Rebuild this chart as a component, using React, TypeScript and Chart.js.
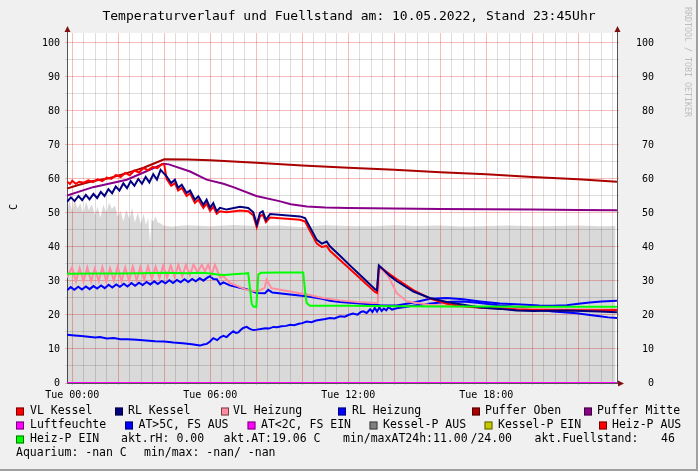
import React, { useEffect, useRef } from "react";
import { Chart, registerables } from "chart.js";
Chart.register(...registerables);

const FONT = '"DejaVu Sans Mono", monospace';

// ---- time range (hours since Tue 00:00) ----
const X_MIN = -0.23;
const X_MAX = 23.683;
const Y_MAX = 102.94;
const xTickValues = Array.from({ length: 48 }, (_, i) => i * 0.5);
const yTickValues = Array.from({ length: 21 }, (_, i) => i * 5);
const titleText = "Temperaturverlauf und Fuellstand am: 10.05.2022, Stand 23:45Uhr";

// ---- Fuellstand (grey area) ----
const fuellT = [-0.23, -0.12, 0.0, 0.1, 0.22, 0.35, 0.48, 0.6, 0.72, 0.85, 0.98, 1.1, 1.22, 1.35, 1.48, 1.6, 1.72, 1.85, 1.98, 2.1, 2.22, 2.35, 2.48, 2.6, 2.72, 2.85, 2.98, 3.1, 3.2, 3.3, 3.38, 3.44, 3.52, 3.62, 3.72, 3.84, 3.95, 4.3, 5.0, 6.0, 7.0, 8.0, 9.0, 10.0, 11.0, 12.0, 13.0, 14.0, 15.0, 16.0, 17.0, 18.0, 19.0, 20.0, 21.0, 22.0, 23.0, 23.62];
const fuellV = [51.0, 53.6, 50.4, 54.2, 51.3, 52.8, 49.8, 53.4, 50.8, 52.6, 49.4, 51.9, 48.6, 52.4, 50.1, 53.0, 51.2, 52.2, 49.0, 50.6, 47.6, 50.9, 48.2, 51.5, 47.2, 50.2, 46.8, 49.8, 46.5, 48.6, 41.0, 48.2, 47.4, 49.0, 47.2, 46.9, 46.3, 46.0, 46.4, 46.1, 46.5, 46.2, 46.3, 45.9, 46.4, 46.2, 46.1, 46.4, 46.2, 46.3, 46.0, 46.2, 46.3, 46.1, 46.2, 46.3, 46.1, 46.2];

// ---- Puffer Oben ----
const pufferObenT = [-0.23, 0.3, 0.9, 1.6, 2.4, 3.1, 3.5, 4.0, 5.0, 6.0, 8.0, 10.0, 12.0, 14.0, 16.0, 18.0, 20.0, 22.0, 23.68];
const pufferObenV = [57.2, 58.3, 59.4, 60.2, 61.8, 63.3, 64.4, 65.8, 65.7, 65.5, 64.8, 64.0, 63.3, 62.7, 62.0, 61.4, 60.6, 59.9, 59.2];

// ---- Puffer Mitte ----
const pufferMitteT = [-0.23, 0.9, 2.37, 3.2, 3.96, 4.2, 5.12, 5.84, 6.57, 7.0, 8.0, 9.0, 9.5, 10.2, 11.0, 12.0, 14.0, 16.0, 18.0, 20.0, 22.0, 23.68];
const pufferMitteV = [55.1, 57.6, 59.8, 62.2, 64.5, 64.3, 62.2, 59.8, 58.6, 57.6, 55.0, 53.5, 52.6, 51.9, 51.6, 51.5, 51.3, 51.2, 51.1, 51.0, 50.9, 50.8];

// ---- RL Kessel ----
const rlKesselT = [-0.23, -0.06, 0.10, 0.27, 0.43, 0.59, 0.75, 0.92, 1.08, 1.24, 1.40, 1.57, 1.73, 1.89, 2.05, 2.22, 2.38, 2.54, 2.70, 2.87, 3.03, 3.19, 3.35, 3.52, 3.68, 3.84, 4.0, 4.1, 4.3, 4.46, 4.6, 4.76, 4.97, 5.12, 5.33, 5.48, 5.7, 5.84, 5.99, 6.13, 6.28, 6.42, 6.71, 7.29, 7.65, 7.87, 8.02, 8.16, 8.28, 8.42, 8.6, 9.9, 10.12, 10.63, 10.85, 11.06, 11.2, 11.64, 12.07, 12.65, 13.16, 13.25, 13.33, 13.81, 14.1, 14.83, 15.55, 16.28, 17.0, 17.73, 18.6, 19.32, 20.03, 21.5, 22.94, 23.68];
const rlKesselV = [53.3, 54.6, 53.5, 55.0, 53.8, 55.3, 54.0, 55.6, 54.4, 56.2, 55.0, 57.0, 55.8, 57.8, 56.6, 58.7, 57.3, 59.4, 58.0, 60.0, 58.6, 60.6, 59.0, 61.4, 59.8, 62.7, 61.5, 60.8, 58.8, 59.8, 57.4, 58.3, 55.9, 56.6, 53.9, 54.9, 52.4, 53.9, 51.5, 52.9, 50.5, 51.5, 51.0, 51.8, 51.5, 50.2, 46.6, 50.0, 50.5, 48.0, 49.7, 49.0, 48.5, 42.1, 41.0, 41.6, 40.2, 37.4, 34.6, 30.9, 27.6, 27.3, 34.6, 31.5, 30.0, 26.9, 25.0, 23.8, 23.0, 22.2, 21.8, 21.3, 21.2, 21.3, 21.0, 20.8];

// ---- VL Kessel ----
const vlKesselT = [-0.23, -0.1, 0.0, 0.15, 0.3, 0.5, 0.7, 0.9, 1.1, 1.3, 1.5, 1.7, 1.9, 2.1, 2.3, 2.5, 2.7, 2.9, 3.1, 3.3, 3.5, 3.7, 3.9, 4.0, 4.1, 4.3, 4.46, 4.6, 4.76, 4.97, 5.12, 5.33, 5.48, 5.7, 5.84, 5.99, 6.13, 6.28, 6.42, 6.71, 7.29, 7.65, 7.87, 8.02, 8.16, 8.28, 8.42, 8.6, 9.9, 10.12, 10.63, 10.85, 11.06, 11.2, 11.64, 12.07, 12.65, 13.16, 13.25, 13.33, 13.81, 14.1, 14.83, 15.55, 16.28, 17.0, 17.73, 18.6, 19.32, 20.03, 21.5, 22.94, 23.68];
const vlKesselV = [59.3, 58.5, 59.5, 58.6, 59.2, 58.9, 59.6, 59.1, 59.9, 59.4, 60.4, 60.0, 61.2, 60.6, 61.8, 61.1, 62.5, 61.9, 63.2, 62.6, 63.6, 63.2, 64.4, 64.2, 60.0, 58.0, 58.8, 56.6, 57.4, 55.0, 55.8, 53.0, 53.9, 51.5, 52.8, 50.6, 51.8, 49.8, 50.5, 50.2, 50.7, 50.5, 49.3, 45.8, 49.0, 49.5, 47.3, 48.7, 48.0, 47.5, 41.0, 40.0, 40.3, 38.9, 36.2, 33.5, 29.9, 26.8, 26.5, 34.4, 32.0, 30.6, 27.3, 24.8, 23.3, 22.6, 22.1, 21.9, 21.6, 21.5, 21.4, 21.4, 21.5];

// ---- VL Heizung ----
const vlHeizT = [-0.23, -0.01, 0.16, 0.32, 0.49, 0.65, 0.82, 0.98, 1.15, 1.31, 1.48, 1.64, 1.81, 1.97, 2.14, 2.30, 2.47, 2.63, 2.80, 2.96, 3.13, 3.29, 3.46, 3.62, 3.79, 3.95, 4.12, 4.28, 4.45, 4.61, 4.78, 4.94, 5.11, 5.27, 5.45, 5.63, 5.77, 5.91, 6.06, 6.2, 6.43, 6.57, 6.86, 7.29, 7.58, 8.02, 8.36, 8.45, 8.66, 9.47, 10.19, 10.91, 11.64, 12.4, 13.16, 13.28, 13.36, 13.74, 14.1, 14.54, 15.5, 16.5, 18.0, 19.5, 21.0, 22.5, 23.68];
const vlHeizV = [31.0, 34.0, 29.9, 33.8, 29.8, 34.0, 29.9, 33.7, 30.0, 34.1, 29.8, 33.8, 30.1, 34.2, 29.9, 34.0, 30.1, 34.3, 30.2, 34.1, 30.4, 34.4, 30.6, 34.2, 30.8, 34.5, 31.0, 34.6, 31.2, 34.8, 31.4, 34.7, 31.8, 34.8, 32.6, 34.8, 32.8, 34.8, 31.9, 34.8, 30.9, 31.4, 29.4, 28.2, 27.4, 26.9, 27.9, 30.4, 27.9, 26.9, 26.0, 25.0, 24.3, 23.8, 23.5, 23.6, 34.2, 31.4, 26.5, 24.0, 23.0, 22.6, 22.2, 21.9, 21.7, 21.6, 21.6];

// ---- RL Heizung ----
const rlHeizT = [-0.23, -0.07, 0.09, 0.26, 0.42, 0.59, 0.75, 0.92, 1.08, 1.25, 1.41, 1.58, 1.74, 1.91, 2.07, 2.24, 2.4, 2.57, 2.73, 2.9, 3.06, 3.23, 3.39, 3.56, 3.72, 3.89, 4.05, 4.22, 4.38, 4.55, 4.71, 4.88, 5.04, 5.21, 5.37, 5.54, 5.7, 5.87, 5.99, 6.13, 6.28, 6.43, 6.57, 6.85, 7.29, 7.58, 8.02, 8.38, 8.52, 8.7, 9.47, 10.19, 10.91, 11.2, 11.64, 12.65, 13.38, 14.1, 14.8, 15.55, 16.28, 17.0, 17.73, 18.6, 19.5, 20.3, 20.9, 21.5, 22.0, 22.5, 23.0, 23.68];
const rlHeizV = [27.3, 28.2, 27.4, 28.3, 27.5, 28.4, 27.6, 28.5, 27.8, 28.7, 27.9, 28.9, 28.1, 29.0, 28.3, 29.2, 28.4, 29.4, 28.6, 29.5, 28.8, 29.7, 29.0, 29.9, 29.1, 30.0, 29.3, 30.2, 29.4, 30.3, 29.6, 30.5, 29.7, 30.6, 29.9, 30.8, 30.1, 31.0, 31.4, 30.6, 30.5, 29.0, 29.6, 28.7, 28.0, 27.6, 26.5, 26.4, 27.4, 26.6, 26.0, 25.5, 24.7, 24.2, 23.8, 23.3, 22.9, 22.8, 23.6, 24.8, 25.0, 24.6, 24.0, 23.4, 23.1, 22.8, 22.7, 22.9, 23.3, 23.7, 24.0, 24.2];

// ---- Aussentemperatur (AT) ----
const atT = [-0.23, 0.1, 0.4, 0.7, 1.0, 1.2, 1.5, 1.8, 2.1, 2.4, 2.8, 3.2, 3.6, 4.0, 4.4, 4.8, 5.2, 5.55, 5.7, 5.85, 5.99, 6.13, 6.3, 6.45, 6.57, 6.71, 6.85, 7.0, 7.12, 7.22, 7.32, 7.43, 7.58, 7.7, 7.8, 7.9, 8.02, 8.2, 8.4, 8.55, 8.74, 8.9, 9.1, 9.3, 9.47, 9.65, 9.85, 10.0, 10.19, 10.4, 10.6, 10.8, 11.0, 11.2, 11.4, 11.64, 11.85, 12.0, 12.2, 12.4, 12.55, 12.65, 12.8, 12.95, 13.05, 13.15, 13.25, 13.35, 13.45, 13.55, 13.65, 13.75, 13.9, 14.1, 14.4, 14.8, 15.2, 15.6, 16.0, 16.5, 17.0, 17.5, 18.0, 18.6, 19.2, 19.8, 20.2, 20.9, 21.5, 21.93, 22.5, 22.94, 23.3, 23.68];
const atV = [14.2, 14.0, 13.8, 13.6, 13.4, 13.5, 13.1, 13.2, 12.9, 12.9, 12.7, 12.5, 12.3, 12.2, 11.9, 11.7, 11.4, 11.0, 11.3, 11.5, 12.2, 13.2, 12.6, 13.5, 13.9, 13.5, 14.4, 15.2, 14.7, 14.9, 15.6, 16.2, 16.5, 16.0, 15.7, 15.6, 15.7, 15.9, 16.1, 16.0, 16.5, 16.4, 16.7, 16.8, 17.1, 17.0, 17.4, 17.6, 18.1, 17.9, 18.4, 18.6, 18.8, 19.1, 19.0, 19.6, 19.5, 20.0, 20.4, 20.1, 20.9, 21.1, 20.6, 21.7, 20.9, 22.1, 21.0, 22.2, 21.2, 21.9, 21.4, 22.3, 21.6, 22.0, 22.3, 22.7, 23.1, 23.4, 23.7, 23.9, 24.0, 23.7, 23.3, 22.8, 22.4, 21.9, 21.6, 21.0, 20.7, 20.5, 20.0, 19.6, 19.3, 19.1];

// ---- Heiz-P EIN ----
const heizPT = [-0.23, 1.0, 2.0, 3.0, 4.0, 5.0, 5.6, 6.0, 6.3, 6.6, 7.0, 7.5, 7.65, 7.8, 7.87, 8.0, 8.09, 8.2, 9.0, 10.04, 10.12, 10.19, 10.33, 12.0, 14.0, 16.0, 18.0, 20.0, 22.0, 23.68];
const heizPV = [32.1, 32.2, 32.2, 32.3, 32.4, 32.3, 32.4, 32.2, 31.9, 31.8, 32.0, 32.2, 32.3, 23.3, 22.5, 22.4, 31.9, 32.4, 32.5, 32.5, 27.0, 23.5, 22.7, 22.7, 22.6, 22.5, 22.5, 22.4, 22.4, 22.4];

// ---- Luftfeuchte ----
const luftT = [-0.23, 23.68];
const luftV = [0, 0];

// ---- legend ----
const legendRow1 = ["VL Kessel", "RL Kessel", "VL Heizung", "RL Heizung", "Puffer Oben", "Puffer Mitte"];
const legendRow1Colors = ["#ff0000", "#000080", "#ff8c9f", "#0000ff", "#aa0000", "#880088"];
const legendRow2 = ["Luftfeuchte", "AT>5C, FS AUS", "AT<2C, FS EIN", "Kessel-P AUS", "Kessel-P EIN", "Heiz-P AUS"];
const legendRow2Colors = ["#ff00ff", "#0000ff", "#ff00ff", "#808080", "#c8c800", "#ff0000"];
const legendRow3 = ["Heiz-P EIN", "akt.rH: 0.00", "akt.AT:19.06 C", "min/maxAT24h:11.00", "/24.00", "akt.Fuellstand:", "46"];
const legendRow4 = ["Aquarium: -nan C", "min/max: -nan/ -nan"];

const pts = (t: number[], v: number[]) => t.map((x, i) => ({ x, y: v[i] }));

const RED_GRID = "rgba(235,50,50,0.33)";
const GREY_GRID = "rgba(120,120,120,0.25)";

const rrdPlugin = {
  id: "rrdFrame",
  beforeDraw(chart: any) {
    const ctx = chart.ctx;
    const a = chart.chartArea;
    ctx.save();
    ctx.fillStyle = "#f0f0f0";
    ctx.fillRect(0, 0, chart.width, chart.height);
    ctx.fillStyle = "#a0a0a0";
    ctx.fillRect(chart.width - 2, 0, 2, chart.height);
    ctx.fillRect(0, chart.height - 2, chart.width, 2);
    ctx.fillStyle = "#ffffff";
    ctx.fillRect(a.left, a.top, a.right - a.left, a.bottom - a.top);
    ctx.restore();
  },
  afterDraw(chart: any) {
    const ctx = chart.ctx;
    const a = chart.chartArea;
    ctx.save();
    // axis extensions and arrows
    ctx.strokeStyle = "#555";
    ctx.lineWidth = 1;
    ctx.beginPath();
    ctx.moveTo(a.left + 0.5, a.top);
    ctx.lineTo(a.left + 0.5, a.top - 4);
    ctx.moveTo(a.right + 0.5, a.top);
    ctx.lineTo(a.right + 0.5, a.top - 4);
    ctx.stroke();
    ctx.fillStyle = "#801010";
    const tri = (p: number[][]) => {
      ctx.beginPath();
      ctx.moveTo(p[0][0], p[0][1]);
      ctx.lineTo(p[1][0], p[1][1]);
      ctx.lineTo(p[2][0], p[2][1]);
      ctx.closePath();
      ctx.fill();
    };
    tri([[a.left - 2.5, a.top - 1], [a.left + 3.5, a.top - 1], [a.left + 0.5, a.top - 7]]);
    tri([[a.right - 2.5, a.top - 1], [a.right + 3.5, a.top - 1], [a.right + 0.5, a.top - 7]]);
    tri([[a.right + 1, a.bottom - 2.5], [a.right + 1, a.bottom + 3.5], [a.right + 7, a.bottom + 0.5]]);

    ctx.fillStyle = "#000";
    // title
    ctx.font = `13px ${FONT}`;
    ctx.textAlign = "center";
    ctx.textBaseline = "middle";
    ctx.fillText(titleText, chart.width / 2, 16.5);
    // vertical unit label
    ctx.save();
    ctx.translate(14, 207);
    ctx.rotate(-Math.PI / 2);
    ctx.font = `10px ${FONT}`;
    ctx.fillText("C", 0, 0);
    ctx.restore();
    // watermark
    ctx.save();
    ctx.translate(687.5, 7);
    ctx.rotate(Math.PI / 2);
    ctx.font = `8.3px ${FONT}`;
    ctx.fillStyle = "#bdbdbd";
    ctx.textAlign = "left";
    ctx.fillText("RRDTOOL / TOBI OETIKER", 0, 0);
    ctx.restore();

    // legend
    ctx.font = `11.5px ${FONT}`;
    ctx.textAlign = "left";
    ctx.textBaseline = "middle";
    const box = (x: number, y: number, c: string) => {
      ctx.fillStyle = c;
      ctx.fillRect(x, y - 4, 8, 8);
      ctx.strokeStyle = "rgba(0,0,0,0.55)";
      ctx.lineWidth = 1;
      ctx.strokeRect(x + 0.5, y - 3.5, 7, 7);
      ctx.fillStyle = "#000";
    };
    const r1y = 411.5, r2y = 425.5, r3y = 439.5, r4y = 453.5;
    const r1box = [16, 115, 221, 338, 472, 584];
    const r1txt = [30, 128, 233, 352, 485, 597];
    legendRow1.forEach((s, i) => { box(r1box[i], r1y, legendRow1Colors[i]); ctx.fillText(s, r1txt[i], r1y); });
    const r2box = [16, 125, 247.5, 369.5, 484.5, 599];
    const r2txt = [30, 138.5, 261, 383, 498, 612];
    legendRow2.forEach((s, i) => { box(r2box[i], r2y, legendRow2Colors[i]); ctx.fillText(s, r2txt[i], r2y); });
    box(16, r3y, "#00ff00");
    const r3txt = [30, 121, 223.5, 343, 470.5, 534.5, 661];
    legendRow3.forEach((s, i) => ctx.fillText(s, r3txt[i], r3y));
    const r4txt = [16, 144];
    legendRow4.forEach((s, i) => ctx.fillText(s, r4txt[i], r4y));
    ctx.restore();
  },
};

const line = (label: string, t: number[], v: number[], color: string, order: number) => ({
  label,
  data: pts(t, v),
  borderColor: color,
  backgroundColor: color,
  borderWidth: 2,
  pointRadius: 0,
  pointHoverRadius: 0,
  tension: 0,
  fill: false,
  order,
});

export default function App() {
  const ref = useRef<HTMLCanvasElement>(null);
  useEffect(() => {
    const canvas = ref.current!;
    const gridColor = (major: number) => (c: any) => {
      const v = c.tick ? c.tick.value : NaN;
      return Math.abs(v % major) < 1e-6 ? RED_GRID : GREY_GRID;
    };
    const chart = new Chart(canvas, {
      type: "line",
      data: {
        datasets: [
          {
            label: "Fuellstand",
            data: pts(fuellT, fuellV),
            borderWidth: 0,
            borderColor: "rgba(0,0,0,0)",
            backgroundColor: "rgba(0,0,0,0.15)",
            pointRadius: 0,
            tension: 0,
            fill: "origin",
            order: 20,
          } as any,
          line("Puffer Oben", pufferObenT, pufferObenV, "#aa0000", 10),
          line("Puffer Mitte", pufferMitteT, pufferMitteV, "#880088", 9),
          line("AT", atT, atV, "#0000ff", 8),
          line("RL Heizung", rlHeizT, rlHeizV, "#0000ff", 7),
          line("VL Heizung", vlHeizT, vlHeizV, "#ff8c9f", 6),
          line("VL Kessel", vlKesselT, vlKesselV, "#ff0000", 5),
          line("RL Kessel", rlKesselT, rlKesselV, "#000080", 4),
          line("Heiz-P EIN", heizPT, heizPV, "#00ff00", 3),
          line("Luftfeuchte", luftT, luftV, "#ff00ff", 1),
        ],
      },
      options: {
        animation: false,
        responsive: false,
        events: [],
        layout: { padding: { left: 0, right: 44, top: 33, bottom: 0 } },
        plugins: { legend: { display: false }, tooltip: { enabled: false }, title: { display: false } },
        scales: {
          x: {
            type: "linear",
            min: X_MIN,
            max: X_MAX,
            afterBuildTicks: (s: any) => { s.ticks = xTickValues.map((v) => ({ value: v })); },
            afterFit: (s: any) => { s.height = 88; },
            grid: { color: gridColor(2), tickLength: 2, lineWidth: 1 },
            border: { display: true, color: "#555", width: 1 },
            ticks: {
              autoSkip: false,
              maxRotation: 0,
              minRotation: 0,
              padding: 4,
              color: "#000",
              font: { family: FONT, size: 10 },
              callback: (v: any) => {
                const h = Number(v);
                return Math.abs(h % 6) < 1e-6 ? `Tue ${String(h).padStart(2, "0")}:00` : "";
              },
            },
          },
          y: {
            type: "linear",
            position: "left",
            min: 0,
            max: Y_MAX,
            afterBuildTicks: (s: any) => { s.ticks = yTickValues.map((v) => ({ value: v })); },
            afterFit: (s: any) => { s.width = 67; },
            grid: { color: gridColor(10), tickLength: 2, lineWidth: 1 },
            border: { display: true, color: "#555", width: 1 },
            ticks: {
              padding: 5,
              color: "#000",
              font: { family: FONT, size: 10 },
              callback: (v: any) => (Math.abs(Number(v) % 10) < 1e-6 ? String(v) : ""),
            },
          },
          y2: {
            type: "linear",
            position: "right",
            min: 0,
            max: Y_MAX,
            afterBuildTicks: (s: any) => { s.ticks = yTickValues.map((v) => ({ value: v })); },
            afterFit: (s: any) => { s.width = 37; },
            grid: { drawOnChartArea: false, color: gridColor(10), tickLength: 2, lineWidth: 1 },
            border: { display: true, color: "#555", width: 1 },
            ticks: {
              crossAlign: "far",
              padding: 5,
              color: "#000",
              font: { family: FONT, size: 10 },
              callback: (v: any) => (Math.abs(Number(v) % 10) < 1e-6 ? String(v) : ""),
            },
          },
        },
      } as any,
      plugins: [rrdPlugin],
    });
    return () => chart.destroy();
  }, []);
  return (
    <div style={{ position: "absolute", left: 0, top: 0, width: 698, height: 471 }}>
      <canvas ref={ref} width={698} height={471} style={{ display: "block", width: 698, height: 471 }} />
    </div>
  );
}
